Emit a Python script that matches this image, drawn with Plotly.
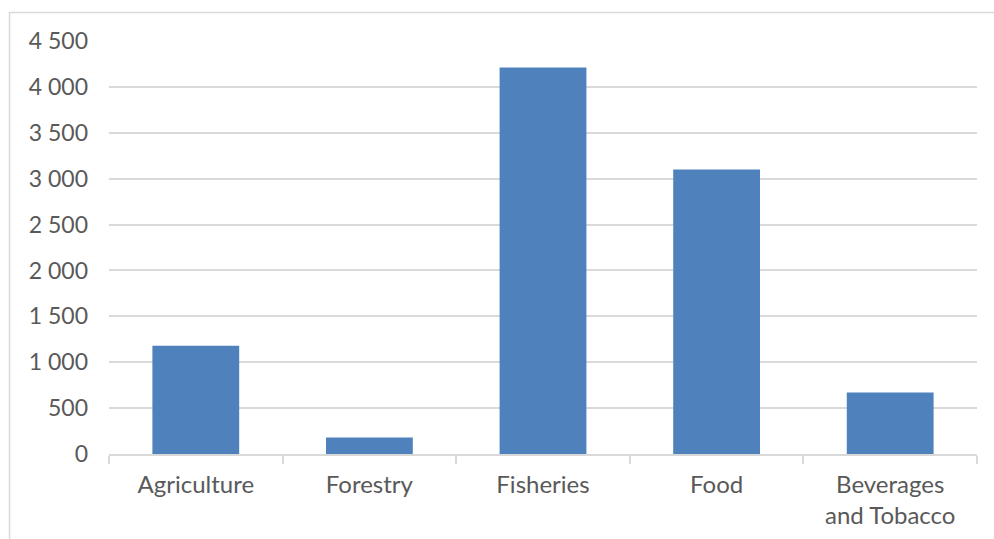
import plotly.graph_objects as go

# Category values
categories = ["Agriculture", "Forestry", "Fisheries", "Food", "Beverages<br>and Tobacco"]
values = [1180, 180, 4210, 3100, 670]

# Value axis ticks
y_ticks = [0, 500, 1000, 1500, 2000, 2500, 3000, 3500, 4000, 4500]

text_color = "#595959"
grid_color = "#d9d9d9"
bar_color = "#4f81bd"
font_family = "Lato, 'Open Sans', sans-serif"

fig = go.Figure(
    go.Bar(
        x=categories,
        y=values,
        marker=dict(color=bar_color, line=dict(width=0)),
        width=0.5,
    )
)

fig.update_layout(
    width=994,
    height=539,
    margin=dict(l=109, r=17, t=41, b=85),
    paper_bgcolor="white",
    plot_bgcolor="white",
    separators=". ",
    showlegend=False,
    font=dict(family=font_family, size=23, color=text_color),
    bargap=0.5,
    shapes=[
        # outer chart frame
        dict(
            type="rect",
            xref="paper",
            yref="paper",
            x0=-0.1146,
            x1=1.03,
            y0=-0.25,
            y1=1.069,
            line=dict(color=grid_color, width=1.5),
            fillcolor="rgba(0,0,0,0)",
            layer="below",
        )
    ],
)

fig.update_xaxes(
    type="category",
    automargin=False,
    showgrid=False,
    showline=True,
    linecolor=grid_color,
    linewidth=1.5,
    ticks="outside",
    tickson="boundaries",
    ticklen=8,
    tickwidth=1.5,
    tickcolor=grid_color,
    tickfont=dict(family=font_family, size=24, color=text_color),
    ticklabelstandoff=8,
)

fig.update_yaxes(
    range=[0, 4500],
    automargin=False,
    tickvals=y_ticks,
    tickformat=",d",
    showgrid=True,
    gridcolor=grid_color,
    gridwidth=1.5,
    zeroline=False,
    showline=False,
    ticks="",
    tickfont=dict(family=font_family, size=23, color=text_color),
    ticklabelstandoff=20,
)

fig.write_html("out.html")
